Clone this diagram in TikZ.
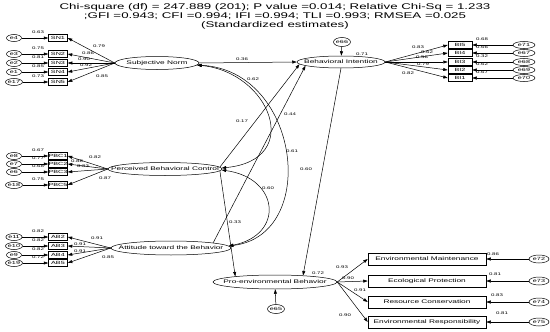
\documentclass[tikz,border=0pt]{standalone}
\usepackage{fontspec}
\setmainfont{Liberation Sans}[FakeStretch=1.6]
\usetikzlibrary{arrows.meta,shapes.geometric}

\begin{document}
\begin{tikzpicture}[x=1pt,y=-1pt,line width=0.5pt,
  lat/.style={draw,ellipse,inner sep=0pt,minimum height=13pt,font=\fontsize{5.2}{6}\selectfont},
  obs/.style={draw,inner sep=0pt,minimum width=19pt,minimum height=7pt,font=\fontsize{4.5}{5}\selectfont},
  outc/.style={draw,inner sep=0pt,minimum width=118pt,minimum height=12pt,font=\fontsize{5.2}{6}\selectfont},
  res/.style={draw,ellipse,inner sep=0pt,minimum width=15pt,minimum height=7pt,font=\fontsize{4.5}{5}\selectfont},
  est/.style={inner sep=0pt,font=\fontsize{3.8}{4}\selectfont},
  effect/.style={-{Triangle[length=4.5pt,width=3pt]}},
  corr/.style={{Triangle[length=4.5pt,width=3pt]}-{Triangle[length=4.5pt,width=3pt]}}]
  \useasboundingbox (0,0) rectangle (550,332);
  % ---------- fit indices
  \node[align=center,font=\fontsize{8.3}{9}\selectfont] (fit) at (275,16)
    {Chi-square (df) = 247.889 (201); P value =0.014; Relative Chi-Sq = 1.233\\
     ;GFI =0.943; CFI =0.994; IFI =0.994; TLI =0.993; RMSEA =0.025\\
     (Standardized estimates)};
  % ---------- latent variables
  \node[lat,minimum width=84pt] (sn) at (157,63) {\makebox[0pt]{Subjective Norm}};
  \node[lat,minimum width=88pt,minimum height=12pt] (bi) at (341,62) {\makebox[0pt]{Behavioral Intention}};
  \node[lat,minimum width=114pt] (pbc) at (165,169) {\makebox[0pt]{Perceived Behavioral Control}};
  \node[lat,minimum width=120pt,minimum height=14pt] (ab) at (171,248) {\makebox[0pt]{Attitude toward the Behavior}};
  \node[lat,minimum width=124pt,minimum height=14pt] (peb) at (275,282) {\makebox[0pt]{Pro-environmental Behavior}};
  \node[res,minimum width=14pt,minimum height=9pt] (e66) at (342,42) {e66};
  \node[res,minimum width=14pt,minimum height=9pt] (e65) at (276,309) {e65};
  \draw[effect] (e66) -- (bi);
  \draw[effect] (e65) -- (peb);
  \node[est] (r2bi) at (362,54) {0.71};
  \node[est] (r2peb) at (318,273) {0.72};
  % ---------- subjective norm
  \foreach \ind/\err/\y/\v [count=\i] in {SN1/e4/38/0.63,SN2/e3/54/0.75,SN3/e2/63/0.81,SN4/e1/72/0.85,SN5/e17/82/0.73} {
    \node[obs] (sn\i) at (58,\y) {\ind};
    \node[res] (sne\i) at (14,\y) {\err};
    \draw[effect] (sne\i) -- (sn\i);
    \draw[effect] (sn.west) -- (sn\i.east);
    \node[est] (snv\i) at (38,\y-5.5) {\v};
  }
  \foreach \v/\x/\y [count=\i] in {0.79/99/46,0.86/88/53,0.90/84/59,0.92/86/65,0.85/102/76}
    \node[est] (snl\i) at (\x,\y) {\v};
  % ---------- perceived behavioral control
  \foreach \ind/\err/\y/\v [count=\i] in {PBC1/e8/156/0.67,PBC2/e7/164/0.77,PBC3/e6/172/0.68,PBC5/e18/185/0.75} {
    \node[obs] (pbc\i) at (58,\y) {\ind};
    \node[res] (pbce\i) at (14,\y) {\err};
    \draw[effect] (pbce\i) -- (pbc\i);
    \draw[effect] (pbc.west) -- (pbc\i.east);
    \node[est] (pbcv\i) at (38,\y-5.5) {\v};
  }
  \foreach \v/\x/\y [count=\i] in {0.82/95/157,0.88/77/161,0.83/83/166,0.87/105/178}
    \node[est] (pbcl\i) at (\x,\y) {\v};
  % ---------- attitude
  \foreach \ind/\err/\y/\v [count=\i] in {AB2/e11/237/0.82,AB3/e10/246/0.82,AB4/e9/255/0.82,AB5/e19/263/0.72} {
    \node[obs] (ab\i) at (58,\y) {\ind};
    \node[res] (abe\i) at (14,\y) {\err};
    \draw[effect] (abe\i) -- (ab\i);
    \draw[effect] (ab.west) -- (ab\i.east);
    \node[est] (abv\i) at (38,\y-5.5) {\v};
  }
  \foreach \v/\x/\y [count=\i] in {0.91/97/238,0.91/80/244,0.91/80/251,0.85/108/257}
    \node[est] (abl\i) at (\x,\y) {\v};
  % ---------- behavioral intention
  \foreach \ind/\err/\y/\v [count=\i] in {BI5/e71/45/0.68,BI4/e67/53/0.66,BI3/e68/62/0.32,BI2/e69/70/0.62,BI1/e70/78/0.67} {
    \node[obs,minimum width=24pt] (bi\i) at (460,\y) {\ind};
    \node[res,minimum width=22pt] (bie\i) at (524,\y) {\err};
    \draw[effect] (bie\i) -- (bi\i);
    \draw[effect] (bi.east) -- (bi\i.west);
    \node[est] (biv\i) at (482,\y-5.5) {\v};
  }
  \foreach \v/\x/\y [count=\i] in {0.83/418/47,0.62/427/52,0.56/422/57,0.79/423/64,0.82/408/73}
    \node[est] (bil\i) at (\x,\y) {\v};
  % ---------- pro-environmental behavior
  \foreach \ind/\err/\y/\v/\vx/\vy [count=\i] in {Environmental Maintenance/e72/259/0.86/493/254,
      Ecological Protection/e73/281/0.81/495/274,Resource Conservation/e74/302/0.83/497/295,
      Environmental Responsibility/e75/322/0.81/502/313} {
    \node[outc] (pe\i) at (427,\y) {\ind};
    \node[res,minimum width=20pt,minimum height=8pt] (pee\i) at (539,\y) {\err};
    \draw[effect] (pee\i) -- (pe\i);
    \draw[effect] (peb.east) -- (pe\i.west);
    \node[est] (pev\i) at (\vx,\vy) {\v};
  }
  \foreach \v/\x/\y [count=\i] in {0.93/342/267,0.90/348/278,0.91/360/290,0.90/345/315}
    \node[est] (pel\i) at (\x,\y) {\v};
  % ---------- structural paths
  \draw[effect] (sn.east) -- (bi.west);
  \draw[effect] (pbc.2) -- (bi.183);
  \draw[effect] (ab.7) -- (bi.186);
  \draw[effect] (bi.south) -- (peb.13);
  \draw[effect] (pbc.-2) -- (peb.172);
  \node[est] (p1) at (242,59) {0.36};
  \node[est] (p2) at (242,121) {0.17};
  \node[est] (p3) at (290,114) {0.44};
  \node[est] (p4) at (306,169) {0.60};
  \node[est] (p5) at (235,222) {0.33};
  % ---------- correlations
  \draw[corr] (sn.-3) .. controls +(73,7) and +(83,-8) .. (pbc.1);
  \draw[corr] (sn.-3) .. controls +(103,5) and +(91,-11) .. (ab.2);
  \draw[corr] (pbc.-1) .. controls +(58,8) and +(56,-11) .. (ab.2);
  \node[est] (c1) at (253,79) {0.62};
  \node[est] (c2) at (292,151) {0.61};
  \node[est] (c3) at (268,188) {0.60};
\end{tikzpicture}
\end{document}
